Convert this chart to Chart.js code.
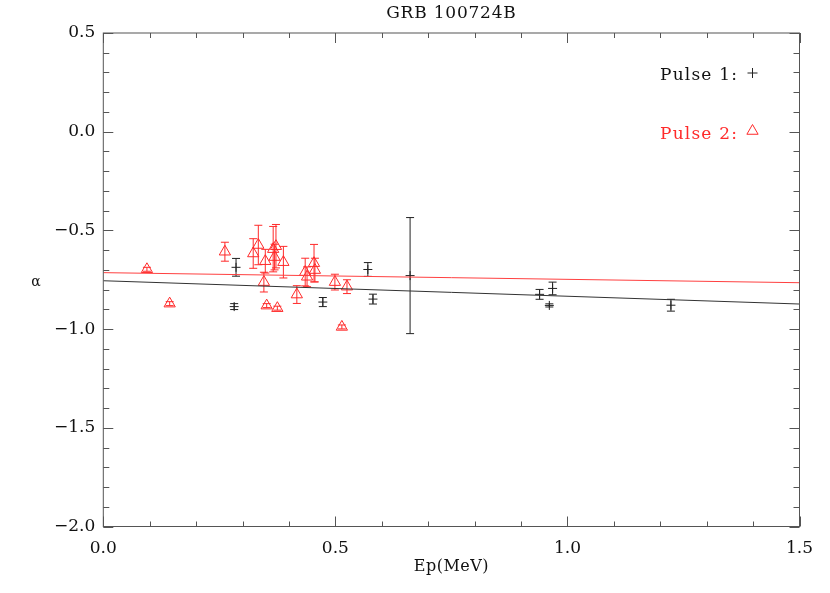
<!DOCTYPE html>
<html>
<head>
<meta charset="utf-8">
<title>GRB 100724B</title>
<script src="https://cdn.jsdelivr.net/npm/chart.js@4.4.1/dist/chart.umd.min.js"></script>
<style>
html, body { margin: 0; padding: 0; background: #fff; }
#wrap { width: 830px; height: 593px; }
</style>
</head>
<body>
<div id="wrap"><canvas id="grbChart" width="830" height="593"></canvas></div>
<script>
// Pulse 1 (black crosses)
const pulse1Ep    = [0.282, 0.286, 0.473, 0.570, 0.581, 0.661, 0.940, 0.961, 0.968, 1.223];
const pulse1Alpha = [-0.886, -0.687, -0.863, -0.698, -0.848, -0.729, -0.824, -0.880, -0.794, -0.879];
const pulse1Err   = [0.015, 0.045, 0.023, 0.035, 0.025, 0.294, 0.025, 0.008, 0.032, 0.030];

// Pulse 2 (red triangles)
const pulse2Ep    = [0.094, 0.143, 0.262, 0.323, 0.334, 0.346, 0.349, 0.352, 0.366, 0.372,
                     0.369, 0.375, 0.388, 0.417, 0.435, 0.439, 0.454, 0.456, 0.499, 0.514, 0.525];
const pulse2Alpha = [-0.697, -0.871, -0.608, -0.617, -0.574, -0.762, -0.656, -0.881, -0.595, -0.580,
                     -0.635, -0.894, -0.661, -0.825, -0.711, -0.735, -0.666, -0.701, -0.762, -0.989, -0.785];
const pulse2Err   = [0.010, 0.010, 0.048, 0.075, 0.100, 0.050, 0.060, 0.010, 0.115, 0.110,
                     0.065, 0.010, 0.080, 0.045, 0.070, 0.050, 0.095, 0.060, 0.040, 0.010, 0.035];

// linear fits, read at the two ends of the axis
const fitEp     = [0.0, 1.5];
const fit1Alpha = [-0.755, -0.873];
const fit2Alpha = [-0.714, -0.765];

const xTicks = [0.0, 0.5, 1.0, 1.5];
const yTicks = [-2.0, -1.5, -1.0, -0.5, 0.0, 0.5];

const BLACK = '#222222';
const RED = '#ff2a2a';
const SERIF = '"DejaVu Serif", "Liberation Serif", serif';

function toPoints(xs, ys) {
    return xs.map((x, i) => ({ x: x, y: ys[i] }));
}

function fmtTick(v) {
    const s = Math.abs(v).toFixed(1);
    return v < -1e-9 ? '\u2212' + s : s;
}

// error bars drawn from dataset.errors through the y scale
const errorBarPlugin = {
    id: 'errorBars',
    beforeDatasetsDraw(chart) {
        const ctx = chart.ctx;
        const xs = chart.scales.x, ys = chart.scales.y;
        chart.data.datasets.forEach(ds => {
            if (!ds.errors) return;
            ctx.save();
            ctx.strokeStyle = ds.borderColor;
            ctx.lineWidth = 1;
            ds.data.forEach((p, i) => {
                const px = xs.getPixelForValue(p.x);
                const top = ys.getPixelForValue(p.y + ds.errors[i]);
                const bot = ys.getPixelForValue(p.y - ds.errors[i]);
                ctx.beginPath();
                ctx.moveTo(px, top); ctx.lineTo(px, bot);
                ctx.moveTo(px - 4, top); ctx.lineTo(px + 4, top);
                ctx.moveTo(px - 4, bot); ctx.lineTo(px + 4, bot);
                ctx.stroke();
            });
            ctx.restore();
        });
    }
};

// IDL-style box with inward ticks on all four sides, titles and legend
const framePlugin = {
    id: 'frame',
    afterDraw(chart) {
        const ctx = chart.ctx;
        const a = chart.chartArea;
        const xs = chart.scales.x, ys = chart.scales.y;
        ctx.save();
        ctx.strokeStyle = '#555';
        ctx.lineWidth = 1;
        ctx.strokeRect(a.left, a.top, a.right - a.left, a.bottom - a.top);
        ctx.beginPath();
        for (let k = 0; k <= 15; k++) {
            const v = k / 10;
            const px = Math.round(xs.getPixelForValue(v)) + 0.5;
            const len = (k % 5 === 0) ? 10 : 5;
            ctx.moveTo(px, a.bottom); ctx.lineTo(px, a.bottom - len);
            ctx.moveTo(px, a.top); ctx.lineTo(px, a.top + len);
        }
        for (let k = -20; k <= 5; k++) {
            const v = k / 10;
            const py = Math.round(ys.getPixelForValue(v)) + 0.5;
            const len = (k % 5 === 0) ? 10 : 6;
            ctx.moveTo(a.left, py); ctx.lineTo(a.left + len, py);
            ctx.moveTo(a.right, py); ctx.lineTo(a.right - len, py);
        }
        ctx.stroke();

        ctx.fillStyle = '#111';
        ctx.textAlign = 'center';
        ctx.textBaseline = 'middle';
        ctx.font = '17px ' + SERIF;
        ctx.letterSpacing = '0.8px';
        ctx.fillText('GRB 100724B', (a.left + a.right) / 2, 14);
        ctx.font = '16px ' + SERIF;
        ctx.letterSpacing = '0.5px';
        ctx.fillText('Ep(MeV)', (a.left + a.right) / 2, 567);
        ctx.letterSpacing = '0px';
        ctx.font = '14px ' + SERIF;
        ctx.fillText('\u03b1', 36, 282);

        ctx.textAlign = 'left';
        ctx.letterSpacing = '1.2px';
        ctx.font = '17px ' + SERIF;
        ctx.fillText('Pulse 1:', 660, 76);
        ctx.fillStyle = RED;
        ctx.fillText('Pulse 2:', 660, 135);
        ctx.letterSpacing = '0px';
        ctx.lineWidth = 1;
        ctx.fillStyle = 'rgba(0,0,0,0)';
        ctx.strokeStyle = BLACK;
        Chart.helpers.drawPoint(ctx, { pointStyle: 'cross', radius: 5, rotation: 0, borderWidth: 1 }, 752.5, 73);
        ctx.strokeStyle = RED;
        Chart.helpers.drawPoint(ctx, { pointStyle: 'triangle', radius: 6.5, rotation: 0, borderWidth: 1 }, 752.5, 131);
        ctx.restore();
    }
};

function initializeChart() {
    const ctx = document.getElementById('grbChart').getContext('2d');
    new Chart(ctx, {
        type: 'scatter',
        data: {
            datasets: [
                {
                    label: 'Pulse 1 fit',
                    type: 'line',
                    data: toPoints(fitEp, fit1Alpha),
                    borderColor: '#333333',
                    borderWidth: 1,
                    pointRadius: 0,
                    fill: false
                },
                {
                    label: 'Pulse 2 fit',
                    type: 'line',
                    data: toPoints(fitEp, fit2Alpha),
                    borderColor: '#ff4040',
                    borderWidth: 1,
                    pointRadius: 0,
                    fill: false
                },
                {
                    label: 'Pulse 1',
                    data: toPoints(pulse1Ep, pulse1Alpha),
                    errors: pulse1Err,
                    borderColor: BLACK,
                    backgroundColor: 'rgba(0,0,0,0)',
                    pointStyle: 'cross',
                    pointRadius: 4.5,
                    pointBorderWidth: 1
                },
                {
                    label: 'Pulse 2',
                    data: toPoints(pulse2Ep, pulse2Alpha),
                    errors: pulse2Err,
                    borderColor: RED,
                    backgroundColor: 'rgba(0,0,0,0)',
                    pointStyle: 'triangle',
                    pointRadius: 6.5,
                    pointBorderWidth: 1
                }
            ]
        },
        options: {
            responsive: false,
            animation: false,
            layout: { padding: { top: 33, right: 30.5, left: 0, bottom: 0 } },
            plugins: {
                legend: { display: false },
                tooltip: { enabled: false }
            },
            scales: {
                x: {
                    type: 'linear',
                    min: 0,
                    max: 1.5,
                    afterBuildTicks: s => { s.ticks = xTicks.map(v => ({ value: v })); },
                    afterFit: s => { s.height = 66.5; },
                    grid: { display: false, drawTicks: false },
                    border: { display: false },
                    ticks: {
                        callback: v => fmtTick(v),
                        color: '#111',
                        padding: 12,
                        maxRotation: 0,
                        font: { family: SERIF, size: 17 }
                    }
                },
                y: {
                    type: 'linear',
                    min: -2,
                    max: 0.5,
                    afterBuildTicks: s => { s.ticks = yTicks.map(v => ({ value: v })); },
                    afterFit: s => { s.width = 103.3; },
                    grid: { display: false, drawTicks: false },
                    border: { display: false },
                    ticks: {
                        callback: v => fmtTick(v),
                        color: '#111',
                        padding: 8,
                        font: { family: SERIF, size: 17 }
                    }
                }
            }
        },
        plugins: [errorBarPlugin, framePlugin]
    });
}

document.addEventListener('DOMContentLoaded', function() {
    initializeChart();
});
</script>
</body>
</html>
